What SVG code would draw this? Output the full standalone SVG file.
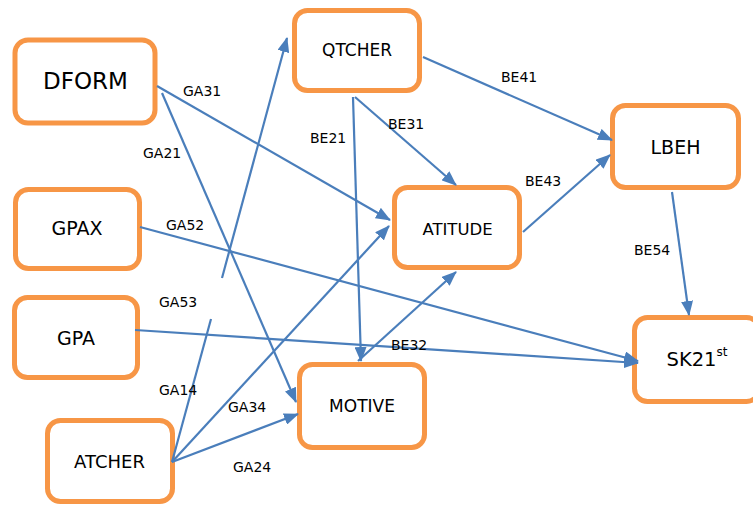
<svg xmlns="http://www.w3.org/2000/svg" width="753" height="506" viewBox="0 0 753 506">
<style>
.box{fill:#ffffff;stroke:#f79646;stroke-width:5}
.lbl{font-family:"DejaVu Sans",sans-serif;fill:#000;text-anchor:middle}
.el{font-family:"DejaVu Sans",sans-serif;font-size:14px;fill:#000}
.c{fill:none;stroke:#4a7ebb;stroke-width:2.2}
</style>
<defs>
<marker id="ah" viewBox="0 0 15 12" refX="14" refY="6" markerWidth="15" markerHeight="12" markerUnits="userSpaceOnUse" orient="auto">
<path d="M0,0 L15,6 L0,12 z" fill="#4a7ebb"/>
</marker>
</defs>
<rect width="753" height="506" fill="#ffffff"/>
<g id="nodes">
<g id="DFORM"><rect class="box" x="15" y="40" width="140" height="83" rx="13"/><text class="lbl" x="85.5" y="89" font-size="23">DFORM</text></g>
<g id="QTCHER"><rect class="box" x="294.5" y="10.5" width="125" height="80" rx="13"/><text class="lbl" x="357" y="56" font-size="17">QTCHER</text></g>
<g id="GPAX"><rect class="box" x="15.5" y="189.5" width="124" height="79" rx="13"/><text class="lbl" x="77" y="235" font-size="19">GPAX</text></g>
<g id="GPA"><rect class="box" x="14.5" y="297.5" width="123" height="80" rx="13"/><text class="lbl" x="76" y="345" font-size="19">GPA</text></g>
<g id="ATCHER"><rect class="box" x="47.5" y="420.5" width="125" height="81" rx="13"/><text class="lbl" x="109.5" y="468" font-size="18">ATCHER</text></g>
<g id="ATITUDE"><rect class="box" x="394.5" y="187.5" width="125" height="80" rx="13"/><text class="lbl" x="457.5" y="235" font-size="16.5">ATITUDE</text></g>
<g id="MOTIVE"><rect class="box" x="299.5" y="364.5" width="125" height="83" rx="13"/><text class="lbl" x="362" y="412" font-size="17">MOTIVE</text></g>
<g id="LBEH"><rect class="box" x="612.5" y="105.5" width="126" height="82" rx="13"/><text class="lbl" x="675.5" y="154" font-size="19">LBEH</text></g>
<g id="SK21st"><rect class="box" x="634.5" y="317.5" width="125" height="84" rx="13"/><text class="lbl" x="697" y="366" font-size="19.5">SK21<tspan font-size="12" dy="-10">st</tspan></text></g>
</g>
<g id="connectors">
<line class="c" x1="157" y1="86" x2="390" y2="220" marker-end="url(#ah)"/>
<line class="c" x1="162" y1="93" x2="296" y2="402" marker-end="url(#ah)"/>
<line class="c" x1="172" y1="462" x2="211" y2="319"/>
<line class="c" x1="222" y1="278" x2="287" y2="38" marker-end="url(#ah)"/>
<line class="c" x1="172" y1="462" x2="389" y2="226" marker-end="url(#ah)"/>
<line class="c" x1="172" y1="462" x2="298" y2="414" marker-end="url(#ah)"/>
<line class="c" x1="140" y1="227" x2="638" y2="361" marker-end="url(#ah)"/>
<line class="c" x1="135" y1="330" x2="638" y2="363" marker-end="url(#ah)"/>
<line class="c" x1="353" y1="97" x2="361" y2="361" marker-end="url(#ah)"/>
<line class="c" x1="355" y1="97" x2="456" y2="185" marker-end="url(#ah)"/>
<line class="c" x1="423" y1="57" x2="612" y2="140" marker-end="url(#ah)"/>
<line class="c" x1="523" y1="232" x2="610" y2="155" marker-end="url(#ah)"/>
<line class="c" x1="672" y1="192" x2="689" y2="315" marker-end="url(#ah)"/>
<line class="c" x1="358" y1="361" x2="456" y2="272" marker-end="url(#ah)"/>
</g>
<g id="edge-labels">
<text class="el" x="183" y="96">GA31</text>
<text class="el" x="143" y="158">GA21</text>
<text class="el" x="166" y="230">GA52</text>
<text class="el" x="159" y="307">GA53</text>
<text class="el" x="159" y="395">GA14</text>
<text class="el" x="228" y="412">GA34</text>
<text class="el" x="233" y="472">GA24</text>
<text class="el" x="310" y="143">BE21</text>
<text class="el" x="388" y="129">BE31</text>
<text class="el" x="501" y="82">BE41</text>
<text class="el" x="525" y="186">BE43</text>
<text class="el" x="634" y="255">BE54</text>
<text class="el" x="391" y="350">BE32</text>
</g>
</svg>
